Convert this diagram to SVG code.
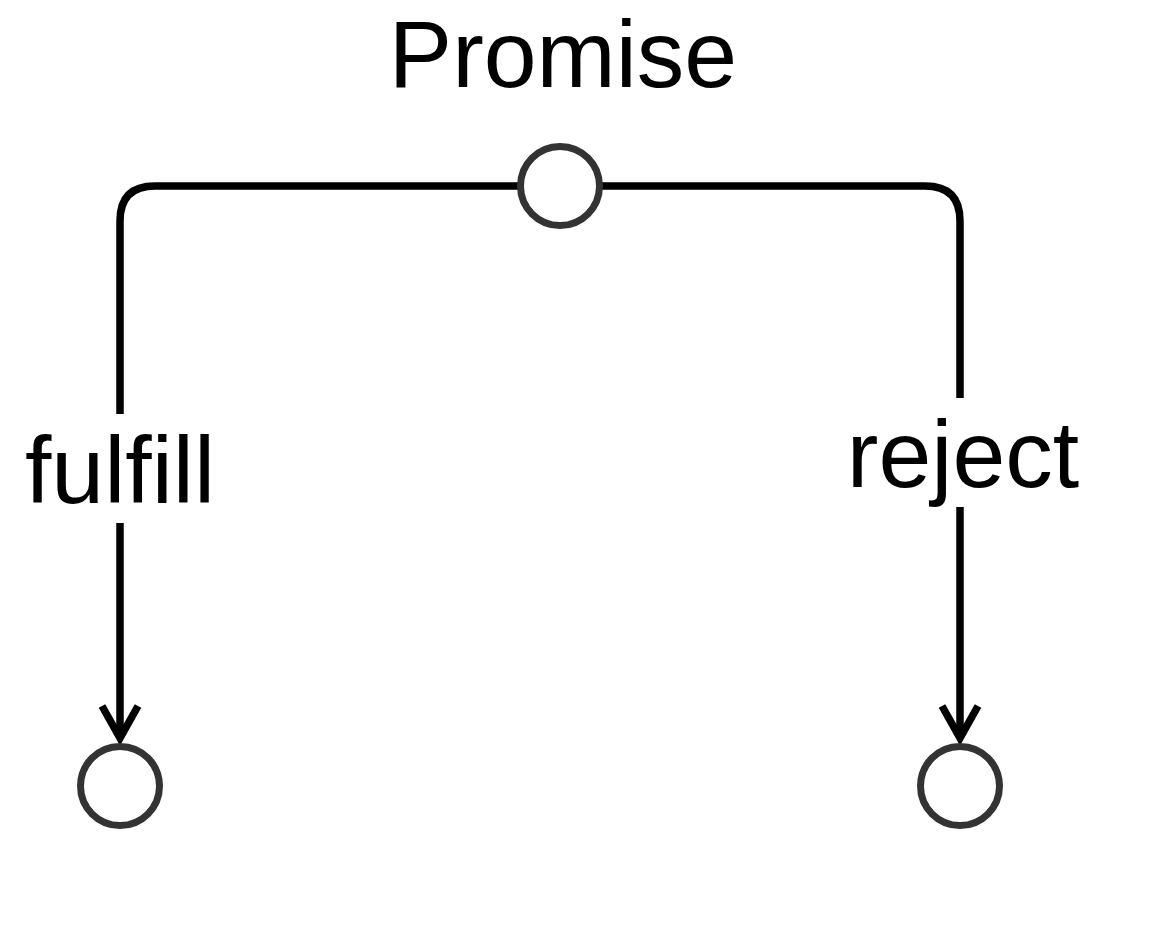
<svg xmlns="http://www.w3.org/2000/svg" width="1168" height="946" viewBox="0 0 1168 946">
  <style>
    .edge { fill: none; stroke: #000; stroke-width: 7.5; }
    .head { fill: none; stroke: #000; stroke-width: 7.5; stroke-linejoin: miter; }
    .state { fill: #fff; stroke: #333; stroke-width: 7; }
    .lbl { font-family: "Liberation Sans", Arial, sans-serif; font-size: 95px; fill: #000; text-anchor: middle; }
  </style>
  <rect width="1168" height="946" fill="#fff"/>
  <g id="connectors">
    <path class="edge" d="M520 186 H155 Q120 186 120 221 V414"/>
    <path class="edge" d="M120 523 V736"/>
    <polyline class="head" points="102,706 120,738 138,706"/>
    <path class="edge" d="M600 186 H925 Q960 186 960 221 V398"/>
    <path class="edge" d="M960 507 V736"/>
    <polyline class="head" points="942,706 960,738 978,706"/>
    <text class="lbl" x="120" y="503">fulfill</text>
    <text class="lbl" x="963" y="487">reject</text>
  </g>
  <g id="promise">
    <circle class="state" cx="560" cy="186" r="39.5"/>
    <text class="lbl" x="563" y="87">Promise</text>
  </g>
  <g id="fulfilled">
    <circle class="state" cx="120" cy="786" r="39.5"/>
  </g>
  <g id="rejected">
    <circle class="state" cx="960" cy="786" r="39.5"/>
  </g>
</svg>
